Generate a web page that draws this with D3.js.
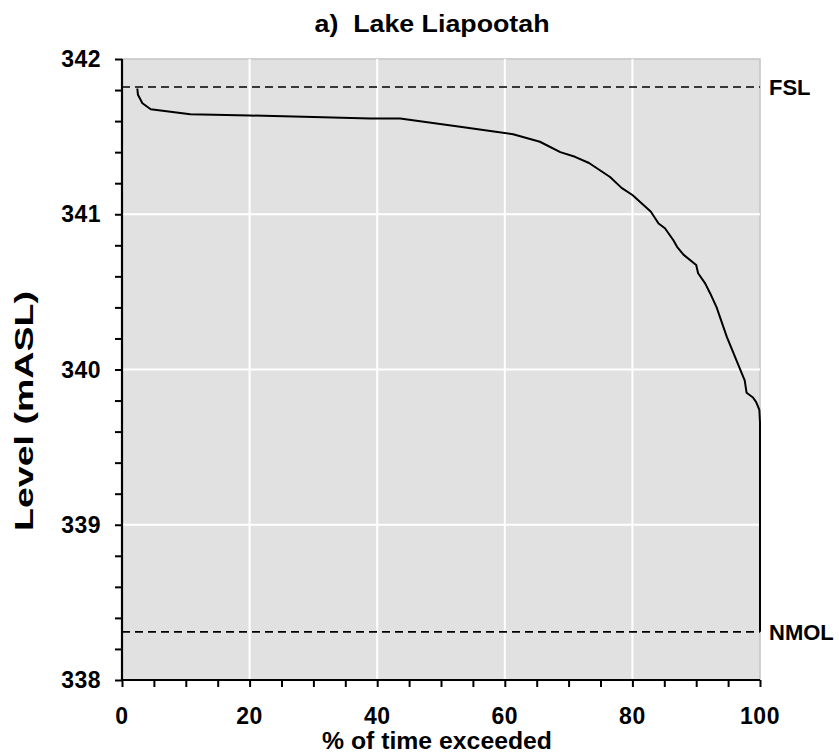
<!DOCTYPE html>
<html>
<head>
<meta charset="utf-8">
<script src="https://cdn.jsdelivr.net/npm/d3@7"></script>
<style>
  html, body { margin: 0; padding: 0; background: #ffffff; }
  svg text { font-family: "Liberation Sans", Arial, sans-serif; font-weight: bold; fill: #000; }
</style>
</head>
<body>
<svg id="chart" width="839" height="753"></svg>
<script>
// Level duration curve: % of time exceeded vs lake level (mASL)
const pctExceeded = [2.4, 2.5, 3.2, 4.5, 10.7, 20, 30, 38.9, 43.6, 53, 61.3, 65.5, 68.7, 71, 73.2, 76.5, 78.3, 80, 82, 82.9, 84.1, 85.1, 86.4, 87.0, 88.0, 90.0, 90.3, 91.4, 92.2, 93.2, 94.8, 96.6, 97.6, 97.9, 98.9, 99.4, 99.9, 100, 100];
const levelMASL   = [341.81, 341.77, 341.715, 341.676, 341.644, 341.636, 341.626, 341.617, 341.616, 341.564, 341.515, 341.467, 341.40, 341.37, 341.33, 341.24, 341.17, 341.124, 341.05, 341.016, 340.94, 340.91, 340.834, 340.79, 340.74, 340.673, 340.62, 340.555, 340.49, 340.40, 340.21, 340.03, 339.93, 339.85, 339.82, 339.79, 339.74, 339.66, 338.31];

// Reference levels
const refNames  = ["FSL", "NMOL"];
const refLevels = [341.82, 338.31];

// Axis ticks
const xTicks = [0, 20, 40, 60, 80, 100];
const xMinorTicks = d3.range(0, 100.001, 5);
const yTicks = [338, 339, 340, 341, 342];
const yMinorTicks = d3.range(338, 342.001, 0.2);

const titleText = "a)  Lake Liapootah";
const xLabel = "% of time exceeded";
const yLabel = "Level (mASL)";

const svg = d3.select("#chart");
const plotLeft = 122, plotRight = 760, plotTop = 59, plotBottom = 680;

const x = d3.scaleLinear().domain([0, 100]).range([plotLeft, plotRight]);
const y = d3.scaleLinear().domain([338, 342]).range([plotBottom, plotTop]);

// plot background
svg.append("rect")
  .attr("x", plotLeft).attr("y", plotTop)
  .attr("width", plotRight - plotLeft).attr("height", plotBottom - plotTop)
  .attr("fill", "#e1e1e1")
  .attr("stroke", "#c4c4c4").attr("stroke-width", 1.5);

// white gridlines
svg.append("g").selectAll("line").data(xTicks.filter(d => d > 0 && d < 100)).join("line")
  .attr("x1", d => x(d)).attr("x2", d => x(d))
  .attr("y1", plotTop).attr("y2", plotBottom)
  .attr("stroke", "#ffffff").attr("stroke-width", 2);
svg.append("g").selectAll("line").data(yTicks.filter(d => d > 338 && d < 342)).join("line")
  .attr("x1", plotLeft).attr("x2", plotRight)
  .attr("y1", d => y(d)).attr("y2", d => y(d))
  .attr("stroke", "#ffffff").attr("stroke-width", 2);

// reference level lines
svg.append("g").selectAll("line").data(refLevels).join("line")
  .attr("x1", plotLeft).attr("x2", plotRight)
  .attr("y1", d => y(d)).attr("y2", d => y(d))
  .attr("stroke", "#000").attr("stroke-width", 1.6)
  .attr("stroke-dasharray", "8,5");
svg.append("g").selectAll("text").data(refLevels).join("text")
  .attr("x", plotRight + 9).attr("y", d => y(d) + 8)
  .attr("font-size", 22)
  .text((d, i) => refNames[i]);

// duration curve
const pts = pctExceeded.map((p, i) => [p, levelMASL[i]]);
svg.append("path")
  .datum(pts)
  .attr("fill", "none")
  .attr("stroke", "#000")
  .attr("stroke-width", 2)
  .attr("stroke-linejoin", "round")
  .attr("d", d3.line().x(d => x(d[0])).y(d => y(d[1])));

// x axis
const xAxisG = svg.append("g").attr("transform", `translate(0,${plotBottom})`);
xAxisG.call(d3.axisBottom(x).tickValues(xMinorTicks).tickSize(7).tickFormat(""));
xAxisG.selectAll(".tick text").remove();
xAxisG.selectAll("line").attr("stroke", "#000").attr("stroke-width", 2);
xAxisG.select(".domain").attr("stroke", "#000").attr("stroke-width", 2.2).attr("d", `M${plotLeft},0H${plotRight}`);
svg.append("g").selectAll("text").data(xTicks).join("text")
  .attr("x", d => x(d)).attr("y", plotBottom + 44)
  .attr("text-anchor", "middle").attr("font-size", 23)
  .attr("letter-spacing", 0.5)
  .text(d => d);

// y axis
const yAxisG = svg.append("g").attr("transform", `translate(${plotLeft},0)`);
yAxisG.call(d3.axisLeft(y).tickValues(yMinorTicks).tickSize(7).tickFormat(""));
yAxisG.selectAll(".tick text").remove();
yAxisG.selectAll("line").attr("stroke", "#000").attr("stroke-width", 2);
yAxisG.select(".domain").attr("stroke", "#000").attr("stroke-width", 2.2).attr("d", `M0,${plotTop}V${plotBottom}`);
svg.append("g").selectAll("text").data(yTicks).join("text")
  .attr("x", plotLeft - 21).attr("y", d => y(d) + 8)
  .attr("text-anchor", "end").attr("font-size", 23)
  .attr("letter-spacing", 0.5)
  .text(d => d);

// titles
svg.append("text")
  .attr("x", 432).attr("y", 32)
  .attr("text-anchor", "middle").attr("font-size", 23)
  .attr("textLength", 235).attr("lengthAdjust", "spacingAndGlyphs")
  .style("white-space", "pre")
  .text(titleText);
svg.append("text")
  .attr("x", 437).attr("y", 749)
  .attr("text-anchor", "middle").attr("font-size", 23)
  .attr("textLength", 230).attr("lengthAdjust", "spacingAndGlyphs")
  .text(xLabel);
svg.append("text")
  .attr("transform", "translate(33,411) rotate(-90)")
  .attr("text-anchor", "middle").attr("font-size", 26)
  .attr("textLength", 240).attr("lengthAdjust", "spacingAndGlyphs")
  .text(yLabel);
</script>
</body>
</html>
